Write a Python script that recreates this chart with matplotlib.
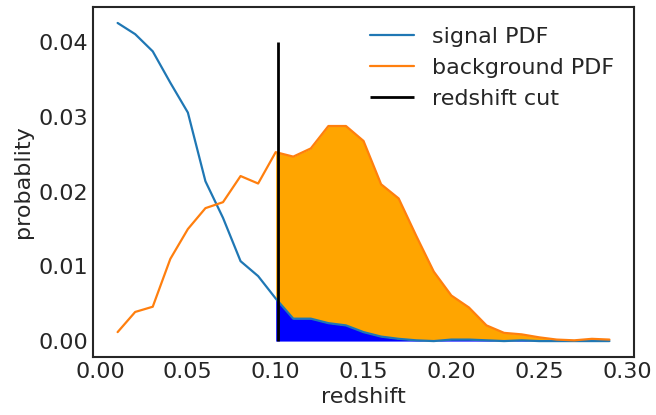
import numpy as np
import matplotlib
matplotlib.use("Agg")
import matplotlib.pyplot as plt
import seaborn as sns

# redshift bin centres and the two PDFs
redshift = [0.01, 0.02, 0.03, 0.04, 0.05, 0.06, 0.07, 0.08, 0.09, 0.10,
            0.11, 0.12, 0.13, 0.14, 0.15, 0.16, 0.17, 0.18, 0.19, 0.20,
            0.21, 0.22, 0.23, 0.24, 0.25, 0.26, 0.27, 0.28, 0.29]
signal_pdf = [0.0426, 0.0411, 0.0388, 0.0346, 0.0306, 0.0214, 0.0165, 0.0107, 0.0087, 0.0057,
              0.0030, 0.0030, 0.0024, 0.0021, 0.0012, 0.0006, 0.0003, 0.0001, 0.0000, 0.0002,
              0.0002, 0.0001, 0.0000, 0.0001, 0.0000, 0.0000, 0.0000, 0.0000, 0.0000]
background_pdf = [0.0012, 0.0039, 0.0046, 0.0110, 0.0150, 0.0178, 0.0186, 0.0221, 0.0211, 0.0253,
                  0.0247, 0.0258, 0.0288, 0.0288, 0.0268, 0.0210, 0.0191, 0.0141, 0.0093, 0.0061,
                  0.0045, 0.0021, 0.0011, 0.0009, 0.0005, 0.0002, 0.0001, 0.0003, 0.0002]
z_fill_start = 0.10
z_cut = 0.1015
cut_height = 0.04

sns.set_style("white")
plt.rcParams["font.family"] = ["DejaVu Sans"]
plt.rcParams["font.size"] = 16

z = np.array(redshift)
sig = np.array(signal_pdf)
bkg = np.array(background_pdf)
above = z >= z_fill_start - 1e-9

fig, ax = plt.subplots(figsize=(6.56, 4.15), dpi=100)
fig.subplots_adjust(left=0.1418, right=0.9665, top=0.983, bottom=0.1398)

ax.fill_between(z[above], sig[above], bkg[above], color="orange", lw=0)
ax.fill_between(z[above], 0, sig[above], color="blue", lw=0)
ax.plot(z, sig, color="#1f77b4", lw=1.6, label="signal PDF")
ax.plot(z, bkg, color="#ff7f0e", lw=1.6, label="background PDF")
ax.vlines(z_cut, 0, cut_height, color="black", lw=2, label="redshift cut")

ax.set_xlabel("redshift", fontsize=16, color=".15")
ax.set_ylabel("probablity", fontsize=16, color=".15")
ax.tick_params(labelsize=16, colors=".15", length=0)
ax.set_xticks([0.0, 0.05, 0.1, 0.15, 0.2, 0.25, 0.3])
ax.set_yticks([0.0, 0.01, 0.02, 0.03, 0.04])
ax.xaxis.set_major_formatter(matplotlib.ticker.FormatStrFormatter("%.2f"))
ax.yaxis.set_major_formatter(matplotlib.ticker.FormatStrFormatter("%.2f"))
for s in ax.spines.values():
    s.set_color(".15")
    s.set_linewidth(1.5)
ax.legend(loc="upper right", frameon=False, fontsize=16)

fig.savefig("out.png", dpi=100)
